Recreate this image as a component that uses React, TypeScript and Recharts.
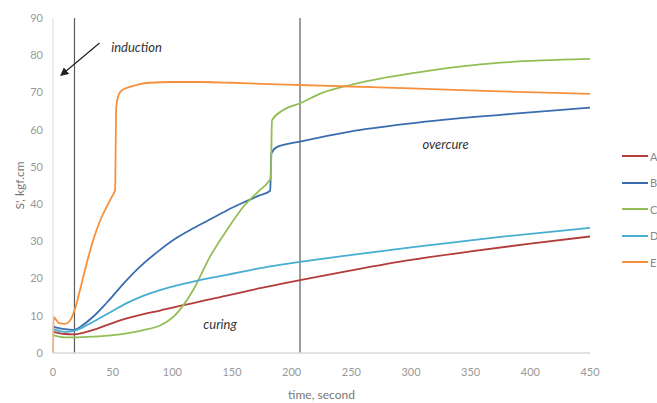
import React from 'react';
import {
  LineChart, Line, XAxis, YAxis, ReferenceLine, ReferenceDot,
} from 'recharts';

// torque curves: [time in seconds, S' in kgf.cm]
const curveA = [
  [0, 5.7], [10, 5.1], [17, 5.0], [25, 5.4], [33.8, 6.2], [45, 7.5], [61.8, 9.3], [75, 10.4],
  [89.7, 11.4], [103, 12.4], [117.6, 13.4], [131, 14.4], [145.6, 15.4], [160, 16.4], [173.5, 17.4],
  [190, 18.5], [207, 19.6], [250, 22.2], [300, 25.0], [350, 27.3], [400, 29.4], [450, 31.3],
];
const curveB = [
  [0, 7.1], [10, 6.4], [17, 6.2], [25, 7.5], [33.8, 9.8], [45, 13.5], [61.8, 19.6], [75, 23.8],
  [89.7, 27.7], [103, 30.8], [117.6, 33.5], [131, 35.8], [145.6, 38.3], [160, 40.5], [173.5, 42.4],
  [182, 43.6], [183, 53.6], [187.5, 55.3], [207, 56.8], [249, 59.5], [300, 61.7], [375, 64.0], [450, 65.9],
];
const curveC = [
  [0, 4.8], [10, 4.2], [17, 4.2], [33.8, 4.4], [50, 4.8], [61.8, 5.3], [75, 6.1], [89.7, 7.4],
  [96, 8.5], [103, 10.4], [110, 13.2], [117.6, 17.0], [131.6, 25.9], [145.6, 33.0], [159.5, 39.3],
  [173.5, 43.8], [181, 46.2], [182.5, 47.0], [183.5, 62.5], [193, 65.3], [207, 67.1], [225, 69.8],
  [249, 72.0], [275, 73.8], [300, 75.1], [337, 76.8], [375, 78.0], [410, 78.6], [450, 79.0],
];
const curveD = [
  [0, 6.4], [10, 5.7], [17, 5.9], [25, 6.9], [33.8, 8.4], [45, 10.4], [61.8, 13.4], [75, 15.3],
  [89.7, 16.9], [103, 18.1], [117.6, 19.2], [131, 20.1], [145.6, 21.0], [160, 21.9], [173.5, 22.8],
  [190, 23.7], [207, 24.5], [249, 26.3], [300, 28.4], [375, 31.2], [450, 33.6],
];
const curveE = [
  [0, 0], [0.5, 9.6], [5, 8.0], [10, 7.8], [14, 8.6], [17, 10.5], [19.5, 13.0], [22.6, 16.9],
  [28, 23.8], [33.8, 30.4], [39, 35.2], [45, 39.3], [49, 41.8], [52, 43.8], [53, 66.0], [54.5, 68.8],
  [56, 70.0], [60, 71.0], [64.5, 71.5], [72, 72.2], [81, 72.6], [100, 72.8], [125, 72.8], [150, 72.6],
  [175, 72.3], [207, 72.0], [249, 71.6], [300, 71.1], [375, 70.3], [450, 69.6],
];

const seriesNames = ['A', 'B', 'C', 'D', 'E'];
const seriesColors = ['#b23c3a', '#3a6db0', '#93bd55', '#46aed0', '#f7903d'];
const seriesCurves = [curveA, curveB, curveC, curveD, curveE];

const xTicks = [0, 50, 100, 150, 200, 250, 300, 350, 400, 450];
const yTicks = [0, 10, 20, 30, 40, 50, 60, 70, 80, 90];

// stage boundaries (seconds)
const inductionEnd = 18;
const curingEnd = 207;

const FONT = 'Lato, "Open Sans", sans-serif';

const toRows = (pts: number[][]) => pts.map(([t, v]) => ({ t, v }));

const YTitle = (props: any) => {
  const { viewBox } = props;
  const x = viewBox.x + 13;
  const y = viewBox.y + viewBox.height / 2;
  return (
    <text x={x} y={y} transform={`rotate(-90, ${x}, ${y})`} textAnchor="middle" dominantBaseline="middle"
      fill="#777" fontSize={12} fontFamily={FONT}>
      S', kgf.cm
    </text>
  );
};

const XTitle = (props: any) => {
  const { viewBox } = props;
  return (
    <text x={viewBox.x + viewBox.width / 2} y={viewBox.y + 46} textAnchor="middle"
      fill="#777" fontSize={12} fontFamily={FONT}>
      time, second
    </text>
  );
};

const note = (value: string) => ({
  value, position: 'center' as const, fill: '#333', fontSize: 13, fontStyle: 'italic', fontFamily: FONT,
});

export default function App() {
  return (
    <div style={{ position: 'relative', width: 657, height: 403, overflow: 'hidden', background: '#fff' }}>
      <style>{'body{margin:0}'}</style>
      <LineChart width={657} height={403} margin={{ top: 18, right: 67, bottom: 0, left: 8 }}>
        <defs>
          <marker id="arrowHead" viewBox="0 0 10 10" refX="8" refY="5" markerWidth="7" markerHeight="7" orient="auto">
            <path d="M0,0 L10,5 L0,10 z" fill="#222" />
          </marker>
        </defs>
        <XAxis type="number" dataKey="t" domain={[0, 450]} ticks={xTicks} allowDuplicatedCategory={false}
          height={50} tickLine={false} axisLine={{ stroke: '#d9d9d9', strokeWidth: 1.5 }} tickMargin={9}
          tick={{ fill: '#999', fontSize: 11, fontFamily: FONT }} label={<XTitle />} />
        <YAxis type="number" domain={[0, 90]} ticks={yTicks} width={45} tickLine={false}
          axisLine={{ stroke: '#d9d9d9', strokeWidth: 1 }} tickMargin={4}
          tick={{ fill: '#999', fontSize: 11, fontFamily: FONT }} label={<YTitle />} />
        <ReferenceLine x={inductionEnd} stroke="#5a5a5a" strokeWidth={1.2} />
        <ReferenceLine x={curingEnd} stroke="#5a5a5a" strokeWidth={1.2} />
        <ReferenceLine segment={[{ x: 39, y: 83.3 }, { x: 7, y: 74.7 }]} stroke="#222" strokeWidth={1.2}
          markerEnd="url(#arrowHead)" />
        <ReferenceDot x={70} y={82} r={1} fill="none" stroke="none" label={note('induction')} />
        <ReferenceDot x={329} y={56} r={1} fill="none" stroke="none" label={note('overcure')} />
        <ReferenceDot x={140} y={7.8} r={1} fill="none" stroke="none" label={note('curing')} />
        {seriesCurves.map((pts, i) => (
          <Line key={seriesNames[i]} data={toRows(pts)} dataKey="v" name={seriesNames[i]} type="monotone"
            stroke={seriesColors[i]} strokeWidth={1.8} dot={false} activeDot={false} isAnimationActive={false} />
        ))}
      </LineChart>
      {/* legend */}
      <div style={{ position: 'absolute', left: 622, top: 143, fontFamily: FONT, fontSize: 11, color: '#888' }}>
        {seriesNames.map((name, i) => (
          <div key={name} style={{ display: 'flex', alignItems: 'center', height: 26.5 }}>
            <span style={{ display: 'inline-block', width: 26, height: 2, background: seriesColors[i] }} />
            <span style={{ marginLeft: 2 }}>{name}</span>
          </div>
        ))}
      </div>
    </div>
  );
}
